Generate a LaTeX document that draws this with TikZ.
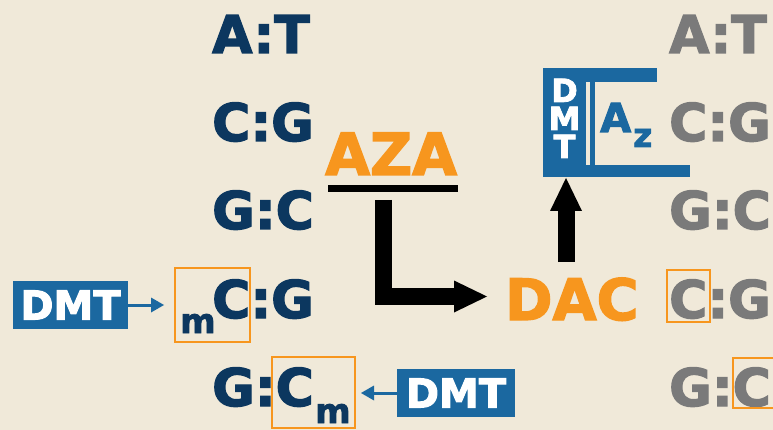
\documentclass[tikz,border=0pt]{standalone}
\usepackage{fontspec}
\setmainfont{DejaVu Sans}
\newfontfamily\hv{DejaVu Sans Bold}[FakeBold=2.5]
\usetikzlibrary{arrows.meta}
\definecolor{bg}{RGB}{240,233,217}
\definecolor{navy}{RGB}{12,55,95}
\definecolor{grayt}{RGB}{122,122,122}
\definecolor{orng}{RGB}{247,150,30}
\definecolor{blu}{RGB}{27,104,160}
\tikzset{
  pair/.style={inner sep=0pt, anchor=base west, text=navy, font=\fontsize{52}{52}\selectfont\hv},
  gpair/.style={pair, text=grayt},
  subm/.style={inner sep=0pt, anchor=base west, text=navy, font=\fontsize{34}{34}\selectfont\hv},
  drug/.style={inner sep=0pt, anchor=base west, text=orng, font=\fontsize{58}{58}\selectfont\hv},
  obox/.style={draw=orng, line width=2pt, inner sep=0pt},
  dmtbox/.style={fill=blu, text=white, inner sep=0pt, minimum height=48pt, font=\fontsize{40}{40}\selectfont\hv},
  vlet/.style={inner sep=0pt, anchor=base, text height=23pt, text depth=0pt, text=white, font=\fontsize{32}{32}\selectfont\hv},
  bigarrow/.style={line width=17pt, line join=miter, -{Triangle[length=33pt 0 0, width=32pt 0 0, line width=0pt]}},
  bluarrow/.style={draw=blu, line width=3pt, -{Triangle[length=13pt 0 0, width=15pt 0 0, line width=0pt]}},
}
\begin{document}
\begin{tikzpicture}[x=1pt,y=-1pt]
\fill[bg] (0,0) rectangle (773,430);
\useasboundingbox (0,0) rectangle (773,430);
\clip (0,0) rectangle (773,430);
% left column
\node[pair] (l1) at (212,53) {A:T};
\node[pair] (l2) at (212,141) {C:G};
\node[pair] (l3) at (212,229) {G:C};
\node[pair] (l4) at (212,318) {C:G};
\node[pair] (l5) at (212,406) {G:C};
\node[subm] (m4) at (180,333) {m};
\node[subm] (m5) at (315,423) {m};
% right column
\node[gpair] (r1) at (669,53) {A:T};
\node[gpair] (r2) at (669,141) {C:G};
\node[gpair] (r3) at (669,229) {G:C};
\node[gpair] (r4) at (669,318) {C:G};
\node[gpair] (r5) at (669,406) {G:C};
% orange boxes
\node[obox, minimum width=75pt, minimum height=74pt] (b4) at (212.5,305) {};
\node[obox, minimum width=83pt, minimum height=71pt] (b5) at (313.5,392.5) {};
\node[obox, minimum width=43pt, minimum height=52pt] (rb4) at (688.5,296) {};
\node[obox, minimum width=44pt, minimum height=50pt] (rb5) at (755,383) {};
% DMT boxes
\node[dmtbox, minimum width=115pt] (d1) at (70.5,305) {DMT};
\node[dmtbox, minimum width=118pt] (d2) at (456,393) {DMT};
\draw[bluarrow, shorten >=10pt] (d1.east) -- (b4.west);
\draw[bluarrow, shorten >=5pt] (d2.west) -- (b5.east |- d2.west);
% drugs
\node[drug] (aza) at (325,175) {AZA};
\node[drug, font=\fontsize{57}{57}\selectfont\hv] (dac) at (505,320) {DAC};
\coordinate (ul1) at (328,188.5);
\coordinate (ul2) at (458,188.5);
\draw[line width=7pt] (ul1) -- (ul2);
\coordinate (ls) at (383.5,200);
\coordinate (le) at (487,296.5);
\draw[bigarrow] (ls) |- (le);
\coordinate (us) at (566,262);
\coordinate (ue) at (566,178);
\draw[bigarrow] (us) -- (ue);
% DMT bracket
\fill[blu] (543,68) rectangle (586,177);
\fill[blu] (543,68) rectangle (657,82);
\fill[blu] (543,165) rectangle (690,177);
\fill[blu] (590,68) rectangle (595,177);
\node[vlet] (vD) at (564.5,102) {D};
\node[vlet] (vM) at (564.5,130) {M};
\node[vlet] (vT) at (564.5,158) {T};
\node[inner sep=0pt, anchor=base west, text=blu, font=\fontsize{40}{40}\selectfont\hv] (az) at (600,132) {A};
\node[inner sep=0pt, anchor=base west, text=blu, font=\fontsize{33}{33}\selectfont\hv] (zz) at (633,147) {z};
\end{tikzpicture}
\end{document}
